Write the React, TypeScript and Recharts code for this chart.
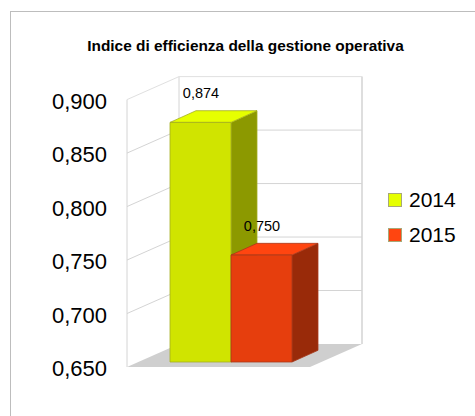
import React from 'react';
import { BarChart, Bar, CartesianGrid, XAxis, YAxis, Legend, LabelList } from 'recharts';

const categories = ['Indice'];
const values2014 = [0.874];
const values2015 = [0.75];
const yTicks = [0.65, 0.7, 0.75, 0.8, 0.85, 0.9];

const data = categories.map((label, i) => ({
    label,
    value_2014: values2014[i],
    value_2015: values2015[i],
}));

const FONT = '"Liberation Sans", Arial, sans-serif';
const GRID = '#d4d4d4';
// depth of the box and the offset of the bars inside it
const DEPTH_X = 52;
const DEPTH_Y = 23;
const BAR_DX = 12.5;
const BAR_DY = 5;
const BAR_DEPTH_X = 26;
const BAR_DEPTH_Y = 11.7;

const fmt = (v: number) => v.toFixed(3).replace('.', ',');

const GridLine = (props: any) => {
    const { x1, x2, y1, index } = props;
    const y = y1;
    const bx1 = x1 + DEPTH_X;
    const bx2 = x2 + DEPTH_X;
    const by = y - DEPTH_Y;
    const isFloor = Math.abs(y - 367) < 2;
    const isTop = Math.abs(y - 99.6) < 2;
    return (
        <g key={index}>
            {isFloor && (
                <>
                    <polygon points={`${x1},${y} ${x2},${y} ${bx2},${by} ${bx1},${by}`} fill="#cfcfcf" />
                    <line x1={x1} y1={y} x2={x1} y2={y - 267.4} stroke={GRID} />
                    <line x1={bx1} y1={by} x2={bx1} y2={by - 267.4} stroke={GRID} />
                    <line x1={bx2} y1={by} x2={bx2} y2={by - 267.4} stroke="#dedede" strokeWidth={2} />
                </>
            )}
            {!isFloor && (
                <polyline
                    points={`${x1},${y} ${bx1},${by} ${bx2},${by}`}
                    fill="none"
                    stroke={isTop ? '#e0e0e0' : GRID}
                />
            )}
        </g>
    );
};

const Box3D = ({ x, y, width, height, front, top, side, edge }: any) => {
    const l = x + BAR_DX;
    const r = l + width;
    const t = y - BAR_DY;
    const b = t + height;
    return (
        <g stroke={edge} strokeWidth={0.8} strokeLinejoin="round">
            <polygon
                points={`${r},${t} ${r + BAR_DEPTH_X},${t - BAR_DEPTH_Y} ${r + BAR_DEPTH_X},${b - BAR_DEPTH_Y} ${r},${b}`}
                fill={side}
            />
            <polygon
                points={`${l},${t} ${l + BAR_DEPTH_X},${t - BAR_DEPTH_Y} ${r + BAR_DEPTH_X},${t - BAR_DEPTH_Y} ${r},${t}`}
                fill={top}
            />
            <rect x={l} y={t} width={width} height={height} fill={front} />
        </g>
    );
};

const ValueLabel = (props: any) => {
    const { x, y, width, value } = props;
    return (
        <text
            x={x + width / 2 + BAR_DX + 0.5}
            y={y - BAR_DY - 24}
            textAnchor="middle"
            fontFamily={FONT}
            fontSize={14.5}
            fill="#000"
        >
            {fmt(value)}
        </text>
    );
};

const LegendBox = ({ payload }: any) => (
    <div style={{ fontFamily: FONT, fontSize: 21, color: '#000', lineHeight: '24px' }}>
        {(payload || []).map((entry: any) => (
            <div key={entry.value} style={{ display: 'flex', alignItems: 'center', height: 35 }}>
                <span
                    style={{
                        width: 12,
                        height: 12,
                        marginRight: 7,
                        background: entry.color,
                        border: '1px solid #a8a878',
                    }}
                />
                {entry.value}
            </div>
        ))}
    </div>
);

export default function App() {
    return (
        <div style={{ position: 'absolute', left: 0, top: 0, width: 475, height: 416, overflow: 'hidden', background: '#fff' }}>
            <div style={{ position: 'absolute', left: 10, top: 11, width: 600, height: 600, border: '1px solid #bdbdbd' }} />
            <div style={{ position: 'absolute', left: 0, top: 0 }}>
                <BarChart
                    width={475}
                    height={416}
                    data={data}
                    margin={{ top: 99.6, right: 78, bottom: 49, left: 0 }}
                    barGap={0}
                    barCategoryGap={30.5}
                >
                    <text x={245.5} y={51} textAnchor="middle" fontFamily={FONT} fontSize={15.4} fontWeight="bold" fill="#000">
                        Indice di efficienza della gestione operativa
                    </text>
                    <CartesianGrid horizontal={GridLine} vertical={false} />
                    <XAxis dataKey="label" hide />
                    <YAxis
                        width={127}
                        domain={[0.65, 0.9]}
                        ticks={yTicks}
                        interval={0}
                        axisLine={false}
                        tickLine={false}
                        tickSize={0}
                        tickMargin={20}
                        tickFormatter={fmt}
                        tick={{ fill: '#000', fontSize: 22, fontFamily: FONT, dy: 1.5 }}
                    />
                    <Legend
                        layout="vertical"
                        align="right"
                        verticalAlign="top"
                        wrapperStyle={{ left: 388, right: 'auto', top: 182, width: 87 }}
                        content={<LegendBox />}
                    />
                    <Bar
                        dataKey="value_2014"
                        name="2014"
                        fill="#e6ff00"
                        isAnimationActive={false}
                        shape={(p: any) => <Box3D {...p} front="#d0e400" top="#e6ff00" side="#8c9900" edge="#a3ad20" />}
                    >
                        <LabelList dataKey="value_2014" content={<ValueLabel />} />
                    </Bar>
                    <Bar
                        dataKey="value_2015"
                        name="2015"
                        fill="#ff4510"
                        isAnimationActive={false}
                        shape={(p: any) => <Box3D {...p} front="#e63e0d" top="#ff4510" side="#992a09" edge="#a8381a" />}
                    >
                        <LabelList dataKey="value_2015" content={<ValueLabel />} />
                    </Bar>
                </BarChart>
            </div>
        </div>
    );
}
